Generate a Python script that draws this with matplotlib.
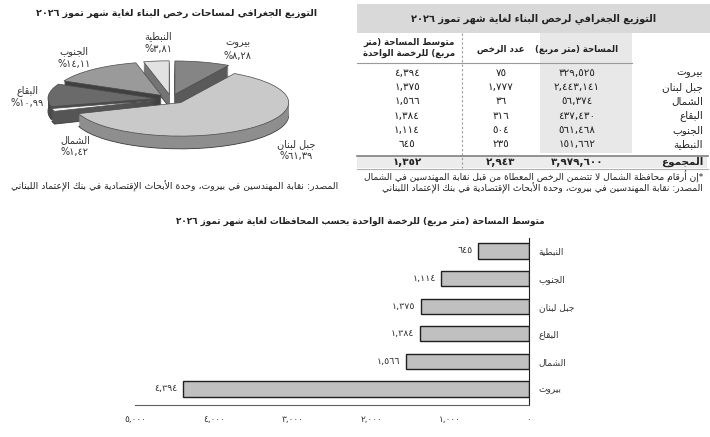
import re
import numpy as np
import matplotlib
matplotlib.use('Agg')
import matplotlib.pyplot as plt
from matplotlib.patches import Rectangle
from matplotlib.ticker import FuncFormatter

# ---- data ----
regions = ['بيروت', 'جبل لبنان', 'الشمال', 'البقاع', 'الجنوب', 'النبطية']
area_m2 = [329525, 2443141, 56374, 437430, 561468, 151662]
permits = [75, 1777, 36, 316, 504, 235]
avg_area = [4394, 1375, 1566, 1384, 1114, 645]
total_area = 3979600
total_permits = 2943
total_avg = 1352
area_share = [8.28, 61.39, 1.42, 10.99, 14.11, 3.81]

bar_regions = ['بيروت', 'الشمال', 'البقاع', 'جبل لبنان', 'الجنوب', 'النبطية']
bar_values = [4394, 1566, 1384, 1375, 1114, 645]
x_ticks = [0, 1000, 2000, 3000, 4000, 5000]

pie_title = 'التوزيع الجغرافي لمساحات رخص البناء لغاية شهر تموز ٢٠٢٦'
table_title = 'التوزيع الجغرافي لرخص البناء لغاية شهر تموز ٢٠٢٦'
bar_title = 'متوسط المساحة (متر مربع) للرخصة الواحدة بحسب المحافظات لغاية شهر تموز ٢٠٢٦'
col_heads = ['المساحة (متر مربع)', 'عدد الرخص', ['متوسط المساحة (متر', 'مربع) للرخصة الواحدة']]
total_label = 'المجموع'
footnote = '*إن أرقام محافظة الشمال لا تتضمن الرخص المعطاة من قبل نقابة المهندسين في الشمال'
source = 'المصدر: نقابة المهندسين في بيروت، وحدة الأبحاث الإقتصادية في بنك الإعتماد اللبناني'

# ---- simple arabic shaping + right-to-left ordering ----
_right = {'\u0622': 0xFE81, '\u0623': 0xFE83, '\u0624': 0xFE85, '\u0625': 0xFE87, '\u0627': 0xFE8D,
          '\u0629': 0xFE93, '\u062F': 0xFEA9, '\u0630': 0xFEAB, '\u0631': 0xFEAD, '\u0632': 0xFEAF,
          '\u0648': 0xFEED, '\u0649': 0xFEEF}
_dual = {'\u0626': 0xFE89, '\u0628': 0xFE8F, '\u062A': 0xFE95, '\u062B': 0xFE99, '\u062C': 0xFE9D,
         '\u062D': 0xFEA1, '\u062E': 0xFEA5, '\u0633': 0xFEB1, '\u0634': 0xFEB5, '\u0635': 0xFEB9,
         '\u0636': 0xFEBD, '\u0637': 0xFEC1, '\u0638': 0xFEC5, '\u0639': 0xFEC9, '\u063A': 0xFECD,
         '\u0641': 0xFED1, '\u0642': 0xFED5, '\u0643': 0xFED9, '\u0644': 0xFEDD, '\u0645': 0xFEE1,
         '\u0646': 0xFEE5, '\u0647': 0xFEE9, '\u064A': 0xFEF1}
_lam_alef = {'\u0622': 0xFEF5, '\u0623': 0xFEF7, '\u0625': 0xFEF9, '\u0627': 0xFEFB}
_mirror = str.maketrans('()', ')(')
_num = r'[0-9\u0660-\u0669][0-9\u0660-\u0669,.]*'


def shape(text):
    toks = []
    i = 0
    while i < len(text):
        c = text[i]
        if c == '\u0644' and i + 1 < len(text) and text[i + 1] in _lam_alef:
            toks.append(('LA', _lam_alef[text[i + 1]]))
            i += 2
        else:
            toks.append((c, None))
            i += 1
    out = []
    for k, (c, la) in enumerate(toks):
        prev = toks[k - 1][0] if k > 0 else None
        nxt = toks[k + 1][0] if k + 1 < len(toks) else None
        p = prev in _dual or prev == '\u0640'
        if c == 'LA':
            out.append(chr(la + (1 if p else 0)))
        elif c in _dual:
            n = nxt in _dual or nxt in _right or nxt in ('LA', '\u0640')
            form = (3 if n else 1) if p else (2 if n else 0)
            out.append(chr(_dual[c] + form))
        elif c in _right:
            out.append(chr(_right[c] + (1 if p else 0)))
        else:
            out.append(c)
    return ''.join(out)


def ar(text):
    parts = re.split('(' + _num + ')', shape(text))
    vis = []
    for part in reversed(parts):
        if re.fullmatch(_num, part):
            vis.append(part)
        else:
            vis.append(part[::-1].translate(_mirror))
    return ''.join(vis)


_digits = str.maketrans('0123456789', '٠١٢٣٤٥٦٧٨٩')


def arnum(v):
    return f'{v:,}'.translate(_digits)


def arpct(v):
    return '%' + f'{v:.2f}'.replace('.', ',').translate(_digits)


plt.rcParams['font.family'] = ['DejaVu Sans']
fig = plt.figure(figsize=(7.1, 4.37), dpi=100)

# background axes in pixel units for the table and free texts
bg = fig.add_axes([0, 0, 1, 1])
bg.set_xlim(0, 710)
bg.set_ylim(437, 0)
bg.axis('off')

txt = '#222222'

# ---- pie (top left) ----
bg.text(177, 13, ar(pie_title), ha='center', va='center', fontsize=6.8, fontweight='bold', color=txt)

pax = fig.add_axes([0, 1 - 180 / 437, 355 / 710, 150 / 437])
top_cols = ['#858585', '#c9c9c9', '#f2f2f2', '#6a6a6a', '#9a9a9a', '#e2e2e2']
side_cols = ['#5a5a5a', '#8e8e8e', '#555555', '#4a4a4a', '#404040', '#747474']
explode = [0.14] * len(area_share)
depth = 0.38
steps = 14
for k in range(steps, 0, -1):
    pax.pie(area_share, colors=side_cols, explode=explode, startangle=90, counterclock=False,
            center=(0, -depth * k / steps),
            wedgeprops=dict(linewidth=0.6 if k == steps else 0, edgecolor='#3a3a3a'))
pax.pie(area_share, colors=top_cols, explode=explode, startangle=90, counterclock=False,
        wedgeprops=dict(linewidth=0.5, edgecolor='#4a4a4a'))
pax.set_aspect('auto')
pax.set_xlim(-171 / 108, (355 - 171) / 108)
pax.set_ylim(-(180 - 99) / 33.5, (99 - 30) / 33.5)

# labels around the pie, from each slice's mid angle
nudge = {0: (0.25, -0.07), 1: (0.25, -0.3), 2: (0.47, -0.94), 3: (0.08, -0.09), 5: (0.05, 0.1)}
ang = 90.0
for i, (name, share) in enumerate(zip(regions, area_share)):
    mid = ang - share * 3.6 / 2
    ang -= share * 3.6
    lx = 1.42 * np.cos(np.radians(mid))
    ly = 1.6 * np.sin(np.radians(mid))
    dx, dy = nudge.get(i, (0, 0))
    pax.text(lx + dx, ly + dy, ar(name) + '\n' + arpct(share), ha='center', va='center',
             fontsize=7, color='#333333', linespacing=1.3)

bg.text(338, 186, ar(source), ha='right', va='center', fontsize=6.7, color=txt)

# ---- table (top right) ----
bg.add_patch(Rectangle((357, 4), 353, 29, color='#d9d9d9', lw=0))
bg.add_patch(Rectangle((540, 33), 92, 120, color='#e8e8e8', lw=0))
bg.add_patch(Rectangle((357, 156), 350, 12, color='#ececec', lw=0))
bg.text(534, 19, ar(table_title), ha='center', va='center', fontsize=7, fontweight='bold', color=txt)

col_x = [577, 501, 409]
bg.text(col_x[0], 49, ar(col_heads[0]), ha='center', va='center', fontsize=6.2, fontweight='bold', color=txt)
bg.text(col_x[1], 49, ar(col_heads[1]), ha='center', va='center', fontsize=6.2, fontweight='bold', color=txt)
bg.text(col_x[2], 48, ar(col_heads[2][0]) + '\n' + ar(col_heads[2][1]), ha='center', va='center',
        fontsize=6.2, fontweight='bold', color=txt, linespacing=1.2)

bg.plot([357, 632], [62.5, 62.5], color='#9a9a9a', lw=0.8)
bg.plot([462, 462], [33, 168], color='#9a9a9a', lw=0.8, ls=(0, (2, 2)))
bg.plot([357, 708], [155.5, 155.5], color='#808080', lw=1.2)
bg.plot([357, 708], [168.5, 168.5], color='#b0b0b0', lw=0.8)

row_y = [73, 87, 101, 116, 130, 144]
for y, name, a, p, m in zip(row_y, regions, area_m2, permits, avg_area):
    bg.text(703, y, ar(name), ha='right', va='center', fontsize=7.5, color=txt)
    bg.text(col_x[0], y, arnum(a), ha='center', va='center', fontsize=7.5, color=txt)
    bg.text(col_x[1], y, arnum(p), ha='center', va='center', fontsize=7.5, color=txt)
    bg.text(407, y, arnum(m), ha='center', va='center', fontsize=7.5, color=txt)
bg.text(703, 162, ar(total_label), ha='right', va='center', fontsize=7.5, fontweight='bold', color=txt)
bg.text(col_x[0], 162, arnum(total_area), ha='center', va='center', fontsize=7.5, fontweight='bold', color=txt)
bg.text(col_x[1], 162, arnum(total_permits), ha='center', va='center', fontsize=7.5, fontweight='bold', color=txt)
bg.text(407, 162, arnum(total_avg), ha='center', va='center', fontsize=7.5, fontweight='bold', color=txt)

bg.text(703, 177, ar(footnote), ha='right', va='center', fontsize=6.6, color=txt)
bg.text(703, 188, ar(source), ha='right', va='center', fontsize=6.6, color=txt)

# ---- horizontal bars (bottom) ----
bg.text(545, 221, ar(bar_title), ha='right', va='center', fontsize=6.4, fontweight='bold', color=txt)

ax = fig.add_axes([135 / 710, 1 - 405 / 437, 394 / 710, 167 / 437])
pos = list(range(len(bar_values)))
bars = ax.barh(pos, bar_values, height=0.55, color='#c0c0c0', edgecolor='#202020', linewidth=1)
for b, v in zip(bars, bar_values):
    ax.annotate(arnum(v), (v, b.get_y() + b.get_height() / 2), xytext=(-4, 0), textcoords='offset points',
                ha='right', va='center', fontsize=6.8, color='#333333')
ax.set_xlim(5000, 0)
ax.set_ylim(-0.58, len(bar_values) - 0.53)
ax.set_xticks(x_ticks)
ax.xaxis.set_major_formatter(FuncFormatter(lambda v, p: arnum(int(v))))
ax.set_yticks(pos)
ax.set_yticklabels([ar(r) for r in bar_regions])
ax.yaxis.tick_right()
ax.tick_params(axis='both', length=0)
ax.tick_params(axis='x', labelsize=6.5, pad=7, labelcolor='#333333')
ax.tick_params(axis='y', labelsize=6.5, pad=7, labelcolor='#333333')
for lab in ax.get_yticklabels():
    lab.set_horizontalalignment('left')
ax.spines['top'].set_visible(False)
ax.spines['left'].set_visible(False)
ax.spines['right'].set_color('#202020')
ax.spines['bottom'].set_color('#606060')

fig.savefig('out.png', dpi=100)
